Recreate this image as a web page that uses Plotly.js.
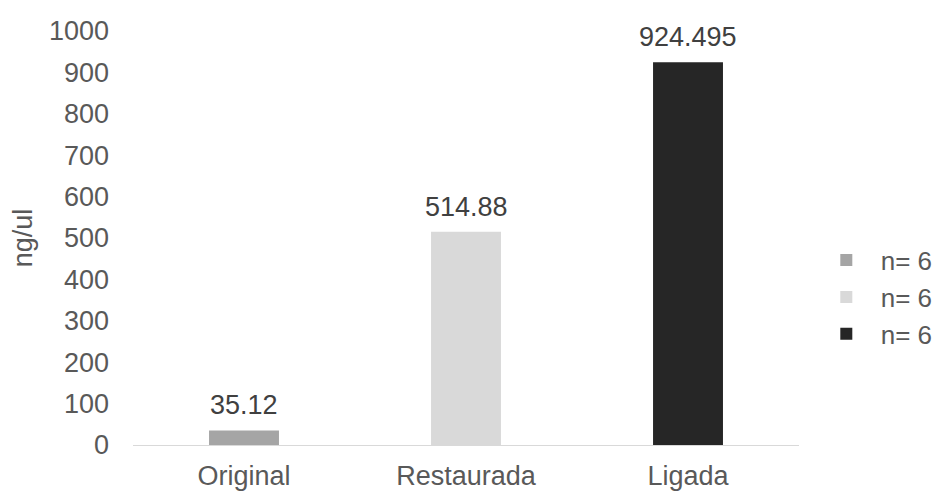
<!DOCTYPE html>
<html><head><meta charset="utf-8">
<script src="https://cdn.plot.ly/plotly-3.0.1.min.js"></script>
<style>html,body{margin:0;padding:0;background:#fff}</style>
</head><body>
<div id="chart" style="width:939px;height:491px"></div>
<script>
const categories = ["Original", "Restaurada", "Ligada"];
const values = [35.12, 514.88, 924.495];
const labels = ["35.12", "514.88", "924.495"];
const legendNames = ["n= 6", "n= 6", "n= 6"];
const colors = ["#a5a5a5", "#d9d9d9", "#262626"];

const FONT = "Liberation Sans, Arial, sans-serif";

const traces = categories.map((c, i) => ({
  type: "bar",
  x: [c],
  y: [values[i]],
  name: "\u00a0\u00a0" + legendNames[i],
  marker: {color: colors[i]},
  width: 0.315
}));

const annotations = categories.map((c, i) => ({
  x: c, y: values[i], xref: "x", yref: "y",
  text: labels[i], showarrow: false,
  yanchor: "bottom", yshift: 8,
  font: {size: 27, color: "#404040", family: FONT}
}));

const layout = {
  width: 939, height: 491,
  margin: {l: 133, r: 140, t: 31, b: 46, autoexpand: false},
  barmode: "overlay",
  paper_bgcolor: "#fff", plot_bgcolor: "#fff",
  font: {family: FONT, color: "#595959", size: 27},
  xaxis: {
    showline: true, linecolor: "#d9d9d9", linewidth: 1,
    showgrid: false, zeroline: false, ticks: "",
    ticklabelstandoff: 7,
    tickfont: {size: 27, color: "#595959"},
    fixedrange: true, automargin: false
  },
  yaxis: {
    range: [0, 1000], dtick: 100, showgrid: false, zeroline: false,
    showline: false, ticks: "", ticklabelstandoff: 23, automargin: false,
    tickfont: {size: 27, color: "#595959"},
    title: {text: "ng/ul", font: {size: 27, color: "#595959"}, standoff: 8}
  },
  annotations: annotations,
  legend: {
    x: 1.041, xanchor: "left", y: 0.357, yanchor: "middle",
    font: {size: 26, color: "#595959"},
    tracegroupgap: 0, itemwidth: 30
  },
  showlegend: true
};

Plotly.newPlot("chart", traces, layout, {displayModeBar: false, staticPlot: true});
</script>
</body></html>
